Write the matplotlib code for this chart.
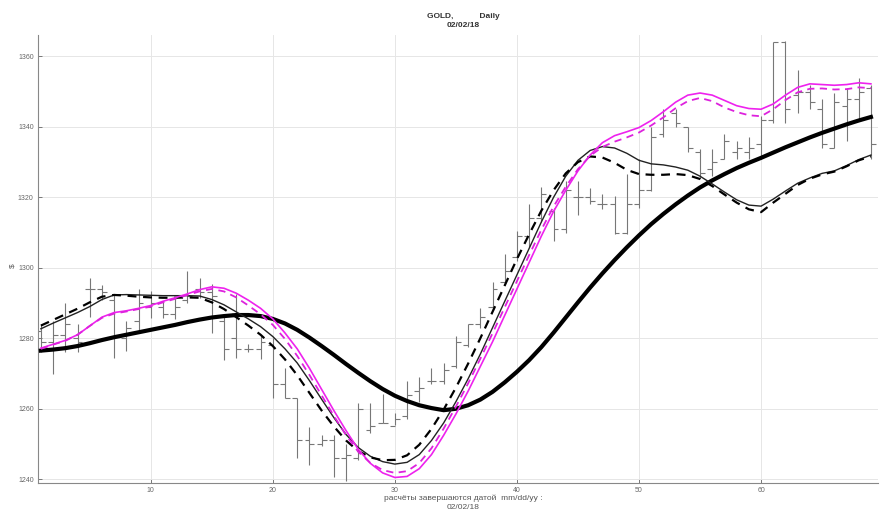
import numpy as np
import matplotlib
matplotlib.use("Agg")
import matplotlib.pyplot as plt

plt.rcParams['font.family'] = ['Liberation Sans', 'DejaVu Sans']

# ------------------------------------------------
# 1) Data (daily GOLD bars + averages)
# ------------------------------------------------
days = np.arange(1, 70)

bar_open = [1282, 1279, 1281, 1280, 1294, 1294, 1291, 1280, 1285, 1289,
            1289, 1287, 1291, 1294, 1293, 1285, 1280, 1277, 1277, 1278,
            1267, 1263, 1251, 1250, 1251, 1246, 1246, 1254, 1256, 1255,
            1258, 1265, 1268, 1268, 1272, 1278, 1284, 1289, 1296, 1303,
            1309, 1314, 1316, 1311, 1320, 1320, 1318, 1318, 1310, 1318,
            1322, 1338, 1344, 1340, 1333, 1328, 1331, 1333, 1333, 1335,
            1342, 1364, 1349, 1350, 1345, 1334, 1346, 1348, 1351]
bar_high = [1284, 1285, 1290, 1284, 1297, 1295, 1292.5, 1285, 1294, 1293.5,
            1290.7, 1291.5, 1299, 1297, 1295.5, 1287, 1292.6, 1278.5, 1280.7, 1280,
            1271.7, 1263, 1254.7, 1252.5, 1252.5, 1250, 1261.5, 1261.5, 1264.3, 1258.7,
            1268, 1269, 1271.7, 1273, 1280.7, 1284, 1288.7, 1296, 1304, 1310.5,
            1318, 1323, 1317, 1324.6, 1324.6, 1322.6, 1321, 1320.4, 1326.6, 1331,
            1340, 1345, 1345, 1340, 1333.7, 1333.7, 1338, 1336, 1337, 1343,
            1364, 1364.5, 1356, 1352, 1348, 1349.5, 1351, 1354, 1352]
bar_low = [1276, 1270, 1276, 1276, 1286, 1291, 1274.5, 1276.5, 1282, 1285.8,
           1285.8, 1285.5, 1290, 1291.5, 1281.6, 1273.7, 1274.5, 1276, 1274, 1263,
           1263, 1246, 1244, 1249.3, 1240.5, 1239.5, 1245.4, 1253, 1256, 1255.3,
           1257, 1262, 1267, 1267, 1271.5, 1277.5, 1283, 1288, 1295, 1302,
           1306, 1313, 1307.6, 1310, 1315, 1318, 1316.7, 1309.6, 1309.5, 1317,
           1321.8, 1337, 1340, 1333, 1325.5, 1326, 1331, 1331, 1331, 1331,
           1341, 1341, 1344, 1345, 1334, 1334, 1336, 1342, 1331]
bar_close = [1279, 1281, 1284, 1279, 1294, 1293, 1281, 1283, 1290, 1290,
             1287, 1289, 1292, 1293, 1292, 1277, 1277, 1277, 1279, 1267,
             1263, 1251, 1250, 1251, 1246, 1247, 1260, 1255, 1256, 1257,
             1264, 1266, 1268, 1271, 1279, 1284, 1286, 1294, 1299, 1309,
             1314, 1321, 1311, 1322, 1320, 1319, 1318, 1310, 1318, 1322,
             1337, 1342, 1341, 1334, 1327, 1330, 1336, 1334, 1334, 1342,
             1364, 1345, 1350, 1347, 1335, 1347, 1348, 1350, 1335]

# slow average (thick black)
avg_slow = [1276.5, 1276.8, 1277.2, 1277.8, 1278.6, 1279.5, 1280.3, 1281.0, 1281.7, 1282.4,
            1283.1, 1283.8, 1284.6, 1285.3, 1285.9, 1286.3, 1286.6, 1286.6, 1286.3, 1285.5,
            1284.2, 1282.4, 1280.2, 1277.8, 1275.3, 1272.7, 1270.2, 1267.8, 1265.6, 1263.7,
            1262.2, 1261.0, 1260.2, 1259.6, 1260.0, 1261.0, 1262.6, 1264.8, 1267.5, 1270.5,
            1273.8, 1277.5, 1281.6, 1285.9, 1290.2, 1294.4, 1298.4, 1302.2, 1305.8, 1309.2,
            1312.4, 1315.3, 1318.0, 1320.5, 1322.8, 1324.8, 1326.6, 1328.3, 1329.8, 1331.2,
            1332.7, 1334.2, 1335.6, 1337.0, 1338.3, 1339.5, 1340.7, 1341.8, 1342.8]
# thin black solid
avg_black = [1282.7, 1284.3, 1285.8, 1287.3, 1289.0, 1291.0, 1292.3, 1292.4, 1292.3, 1292.2,
             1292.1, 1292.1, 1292.1, 1292.0, 1291.0, 1289.5, 1287.5, 1285.5, 1283.3, 1280.5,
             1277.0, 1273.0, 1268.0, 1262.7, 1257.5, 1252.7, 1249.0, 1246.5, 1245.0, 1244.3,
             1244.8, 1247.0, 1251.0, 1256.0, 1262.0, 1268.5, 1275.5, 1283.0, 1290.5, 1298.0,
             1305.5, 1313.0, 1320.0, 1326.0, 1330.5, 1333.3, 1334.4, 1334.0, 1332.5, 1330.5,
             1329.5, 1329.2, 1328.6, 1327.7, 1326.0, 1323.8, 1321.5, 1319.3, 1317.8, 1317.5,
             1319.5, 1321.8, 1324.0, 1325.5, 1326.8, 1327.5, 1329.0, 1330.7, 1332.0]
# black dashed
avg_black_d = [1283.6, 1285.2, 1286.8, 1288.4, 1290.2, 1291.8, 1292.3, 1292.1, 1291.8, 1291.6,
               1291.5, 1291.5, 1291.6, 1291.5, 1290.2, 1288.3, 1286.0, 1283.6, 1281.0, 1277.8,
               1274.0, 1269.5, 1264.5, 1259.5, 1255.0, 1251.0, 1248.0, 1246.2, 1245.4, 1245.5,
               1246.8, 1249.8, 1254.3, 1259.8, 1266.0, 1272.8, 1280.0, 1287.5, 1295.0, 1302.5,
               1309.5, 1316.2, 1322.0, 1326.8, 1330.0, 1331.6, 1331.3, 1329.8, 1327.8, 1326.6,
               1326.4, 1326.4, 1326.6, 1326.3, 1325.2, 1323.2, 1320.8, 1318.5, 1316.6, 1315.8,
               1318.5, 1321.0, 1323.5, 1325.3, 1326.5, 1327.3, 1328.8, 1330.5, 1331.6]
# magenta solid
avg_mag = [1277.2, 1278.3, 1279.4, 1281.0, 1283.5, 1286.0, 1287.3, 1287.8, 1288.5, 1289.3,
           1290.5, 1291.5, 1292.6, 1293.8, 1294.6, 1294.2, 1292.8, 1290.8, 1288.5, 1285.5,
           1281.5, 1277.0, 1271.5, 1265.5, 1259.5, 1253.8, 1248.5, 1244.5, 1241.8, 1240.5,
           1240.8, 1243.0, 1247.0, 1252.5, 1258.5, 1265.0, 1272.0, 1279.0, 1286.5, 1294.0,
           1301.5, 1309.0, 1316.0, 1322.0, 1327.5, 1332.0, 1335.5, 1337.5, 1338.6, 1339.8,
           1341.8, 1344.3, 1347.0, 1349.0, 1349.6, 1349.0, 1347.5, 1346.0, 1345.2, 1345.0,
           1346.5, 1349.0, 1351.2, 1352.2, 1352.0, 1351.8, 1352.0, 1352.5, 1352.2]
# magenta dashed
avg_mag_d = [1277.0, 1278.2, 1279.3, 1281.0, 1283.5, 1285.8, 1287.0, 1287.6, 1288.3, 1289.0,
             1290.2, 1291.2, 1292.3, 1293.3, 1294.0, 1293.3, 1291.6, 1289.3, 1286.8, 1283.8,
             1279.8, 1275.0, 1269.6, 1263.8, 1258.0, 1252.5, 1247.8, 1244.6, 1242.6, 1241.8,
             1242.3, 1244.6, 1248.8, 1254.4, 1260.6, 1267.2, 1274.2, 1281.4, 1288.8, 1296.2,
             1303.6, 1310.8, 1317.4, 1323.0, 1328.0, 1331.8, 1334.3, 1335.8, 1337.0, 1338.4,
             1340.4, 1342.7, 1345.3, 1347.3, 1348.2, 1347.3, 1345.5, 1344.2, 1343.3, 1343.0,
             1345.0, 1347.6, 1349.8, 1350.8, 1350.9, 1350.6, 1350.7, 1351.2, 1351.0]

x_ticks = [10, 20, 30, 40, 50, 60]
y_ticks = [1240, 1260, 1280, 1300, 1320, 1340, 1360]

# ------------------------------------------------
# 2) Plot
# ------------------------------------------------
fig = plt.figure(figsize=(8.8, 5.18), dpi=100)
ax = fig.add_axes([0.043, 0.068, 0.955, 0.864])

bar_col = '#777777'
ax.vlines(days, bar_low, bar_high, color=bar_col, lw=0.8, zorder=2)
ax.hlines(bar_open, days - 0.4, days, color=bar_col, lw=0.8, zorder=2)
ax.hlines(bar_close, days, days + 0.4, color=bar_col, lw=0.8, zorder=2)

ax.plot(days, avg_slow, color='black', lw=3.0, zorder=3)
ax.plot(days, avg_black, color='#222222', lw=1.0, zorder=4)
ax.plot(days, avg_black_d, color='black', lw=1.6, ls=(0, (4, 3)), zorder=4)
ax.plot(days, avg_mag, color='#ee22ee', lw=1.2, zorder=5)
ax.plot(days, avg_mag_d, color='#dd22dd', lw=1.3, ls=(0, (4, 3)), zorder=5)

ax.set_xlim(0.75, 69.6)
ax.set_ylim(1239, 1366)
ax.set_xticks(x_ticks)
ax.set_yticks(y_ticks)
ax.tick_params(direction='in', length=3, width=0.6, labelsize=5,
               colors='#666666', pad=3)
ax.grid(True, color='#e6e6e6', lw=0.7)
ax.set_axisbelow(True)
for side in ['top', 'right']:
    ax.spines[side].set_visible(False)
for side in ['left', 'bottom']:
    ax.spines[side].set_color('#888888')
    ax.spines[side].set_linewidth(0.8)

fig.text(0.526, 0.969, "GOLD,           Daily", ha='center', va='center',
         fontsize=6, fontweight='bold', color='#333333')
fig.text(0.526, 0.950, "02/02/18", ha='center', va='center',
         fontsize=6, fontweight='bold', color='#333333')
fig.text(0.526, 0.039, "расчёты завершаются датой  mm/dd/yy :", ha='center',
         va='center', fontsize=6, color='#555555')
fig.text(0.526, 0.021, "02/02/18", ha='center', va='center',
         fontsize=6, color='#555555')
fig.text(0.015, 0.488, "$", ha='center', va='center', rotation=90,
         fontsize=6, color='#555555')

fig.savefig("out.png", dpi=100)
